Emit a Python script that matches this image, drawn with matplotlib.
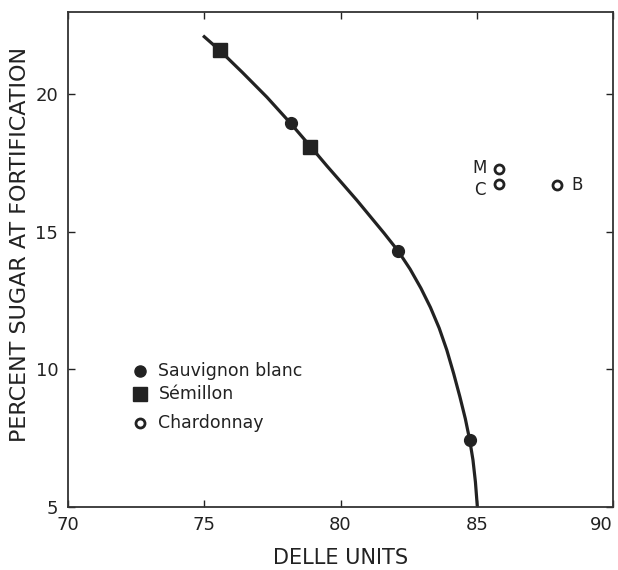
import matplotlib
matplotlib.use("Agg")
import matplotlib.pyplot as plt

plt.rcParams['font.family'] = ['DejaVu Sans']

# Кривая (точки)
curve_x = [75.0, 75.56, 76.4, 77.3, 78.15, 78.93, 79.5, 80.1, 80.6, 81.1, 81.6, 82.11,
           82.55, 82.95, 83.3, 83.62, 83.9, 84.15, 84.38, 84.58, 84.74, 84.86, 84.95, 85.02]
curve_y = [22.1, 21.61, 20.8, 19.9, 18.97, 18.07, 17.4, 16.72, 16.15, 15.55, 14.95, 14.31,
           13.65, 12.95, 12.25, 11.5, 10.7, 9.85, 9.0, 8.2, 7.43, 6.7, 5.9, 5.0]

# Sauvignon blanc
sb_x = [78.19, 82.11, 84.74]
sb_y = [18.97, 14.31, 7.43]

# Sémillon
sem_x = [75.56, 78.89]
sem_y = [21.61, 18.07]

# Chardonnay
ch_x = [85.83, 85.83, 87.93]
ch_y = [17.27, 16.73, 16.70]
ch_labels = ['M', 'C', 'B']

legend_names = ['Sauvignon blanc', 'Sémillon', 'Chardonnay']

ink = '#222222'

fig = plt.figure(figsize=(6.18, 5.70), dpi=100)
ax = fig.add_axes([0.110, 0.111, 0.882, 0.868])

ax.plot(curve_x, curve_y, color=ink, lw=2.3, solid_joinstyle='round', zorder=2)
ax.plot(sb_x, sb_y, 'o', color=ink, ms=8.5, zorder=3)
ax.plot(sem_x, sem_y, 's', color=ink, ms=10, zorder=3)
ax.plot(ch_x, ch_y, 'o', mfc='white', mec=ink, mew=2.0, ms=6.5, zorder=3)

# подписи M, C, B
offsets = [(-14, 1), (-14, -4), (15, 0)]
for x, y, lab, (dx, dy) in zip(ch_x, ch_y, ch_labels, offsets):
    ax.annotate(lab, (x, y), xytext=(dx, dy), textcoords='offset points',
                ha='center', va='center', fontsize=12, color=ink)

# легенда вручную
leg_y = [0.275, 0.228, 0.170]
ax.plot(0.132, leg_y[0], 'o', color=ink, ms=8, transform=ax.transAxes)
ax.plot(0.132, leg_y[1], 's', color=ink, ms=9.5, transform=ax.transAxes)
ax.plot(0.132, leg_y[2], 'o', mfc='white', mec=ink, mew=2.0, ms=6.5,
        transform=ax.transAxes)
for yy, name in zip(leg_y, legend_names):
    ax.text(0.166, yy, name, transform=ax.transAxes, fontsize=12.5,
            va='center', ha='left', color=ink)

ax.set_xlim(70, 90)
ax.set_ylim(5, 23)
ax.set_xticks([70, 75, 80, 85, 90])
ax.set_yticks([5, 10, 15, 20])
ax.tick_params(direction='in', length=5, width=1.0, top=True, right=True,
               labelsize=13, colors=ink, pad=7)
ax.get_xticklabels()[-1].set_horizontalalignment('right')
for s in ax.spines.values():
    s.set_linewidth(1.3)
    s.set_color('#333333')

ax.set_xlabel('DELLE UNITS', fontsize=15, color=ink, labelpad=10)
ax.set_ylabel('PERCENT SUGAR AT FORTIFICATION', fontsize=16, color=ink)
ax.yaxis.set_label_coords(-0.07, 0.53)

plt.savefig('out.png', dpi=100)
